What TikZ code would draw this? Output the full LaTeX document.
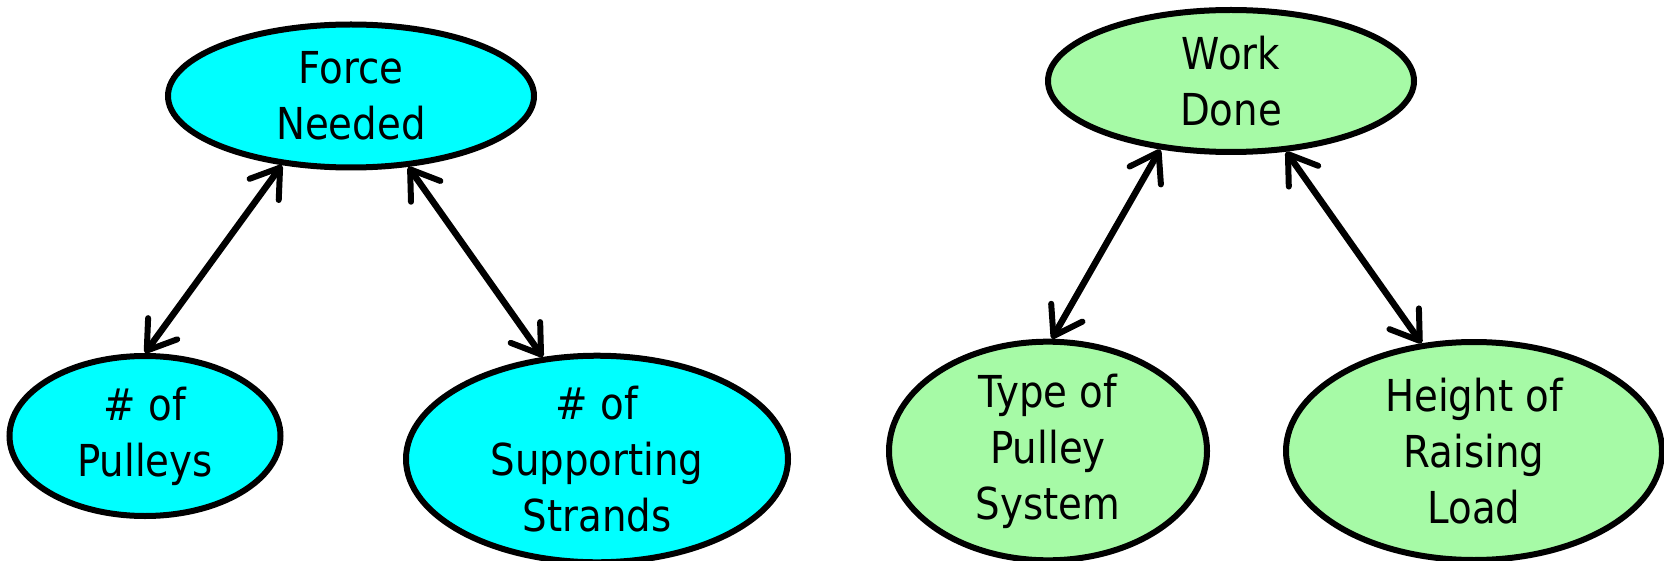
\documentclass[tikz,border=0pt]{standalone}
\usepackage{fontspec}
\setmainfont{DejaVu Sans}[FakeStretch=0.88]
\usetikzlibrary{shapes.geometric,arrows.meta}
\definecolor{forcefill}{HTML}{00FFFF}
\definecolor{workfill}{HTML}{A6FAA6}
\tikzset{
  bubble/.style={ellipse, draw=black, line width=6pt, inner sep=0pt,
    align=center, font=\fontsize{44}{56}\selectfont},
  forcenode/.style={bubble, fill=forcefill},
  worknode/.style={bubble, fill=workfill},
  barb/.tip={Straight Barb[length=27pt,width=36pt,line width=6pt,round]},
  link/.style={line width=6.5pt, line cap=round, {barb}-{barb}}
}
\begin{document}
\begin{tikzpicture}[x=1pt,y=-1pt]
\useasboundingbox (0,0) rectangle (1664,561);
% force concept map
\node[forcenode, minimum width=366pt, minimum height=143pt] (force) at (351,96) {Force\\Needed};
\node[forcenode, minimum width=271pt, minimum height=160pt] (pulleys) at (145,436) {\# of\\Pulleys};
\node[forcenode, minimum width=382pt, minimum height=204pt] (strands) at (597,459) {\# of\\Supporting\\Strands};
% work concept map
\node[worknode, minimum width=366pt, minimum height=142pt] (work) at (1231,81) {Work\\Done};
\node[worknode, minimum width=318pt, minimum height=218pt] (type) at (1048,451) {Type of\\Pulley\\System};
\node[worknode, minimum width=376pt, minimum height=218pt] (height) at (1474,451) {Height of\\Raising\\Load};
% links
\draw[link] (force.225) -- (pulleys.north);
\draw[link] (force.309) -- (strands.118);
\draw[link] (work.224) -- (type.88);
\draw[link] (work.308) -- (height.116);
\end{tikzpicture}
\end{document}
